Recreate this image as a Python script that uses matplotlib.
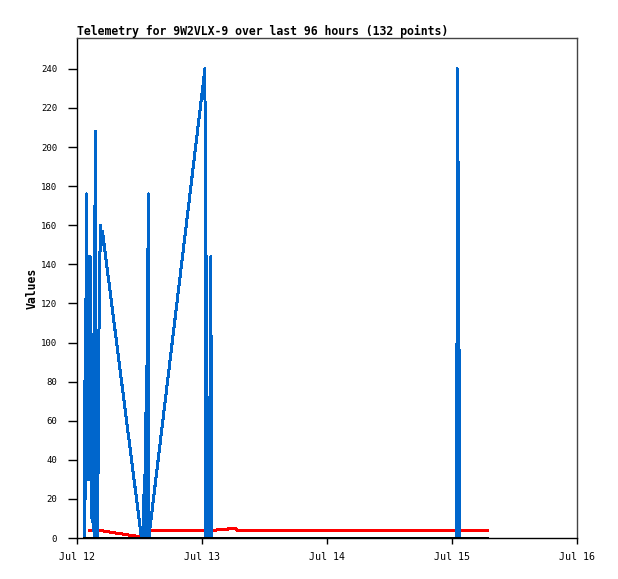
import matplotlib
matplotlib.use("Agg")
import numpy as np
import pandas as pd
import matplotlib.pyplot as plt
import matplotlib.dates as mdates

# keep every spike as drawn
plt.rcParams["path.simplify"] = False

# time axis: hours after Jul 12 00:00
start = pd.Timestamp("2024-07-12 00:00")

blue_hours = [1.29, 1.36, 1.44, 1.52, 1.59, 1.71, 1.82, 1.98, 2.09, 2.21,
              2.32, 2.44, 2.55, 2.63, 2.71, 2.78, 2.90, 2.98, 3.09, 3.21,
              3.44, 3.59, 3.88, 4.01, 4.20, 4.44, 4.63, 4.82,
              12.33, 12.61, 12.90, 13.00, 13.11, 13.19, 13.31, 13.42, 13.61, 13.73,
              24.52, 24.67, 24.82, 24.95, 25.05, 25.15, 25.54, 25.65, 25.77,
              72.90, 73.00, 73.09, 73.19, 73.29, 73.38, 73.48, 78.85]
blue_values = [0, 80, 30, 96, 20, 176, 40, 144, 30, 144,
               30, 144, 126, 60, 90, 10, 54, 8, 104, 0,
               208, 0, 0, 45, 120, 160, 150, 157,
               0, 0, 32, 0, 64, 0, 88, 0, 176, 0,
               240, 0, 144, 0, 72, 0, 0, 144, 0,
               0, 240, 0, 192, 0, 96, 0, 0]

red_hours = [2.30, 4.44, 12.13, 12.42, 26.63, 26.82, 28.93, 29.12, 30.47, 30.66, 78.85]
red_values = [3.8, 3.8, 0.6, 3.8, 3.8, 4.3, 4.3, 4.9, 4.9, 3.8, 3.8]

black_hours = [1.29, 78.85]
black_values = [0, 0]

title = "Telemetry for 9W2VLX-9 over last 96 hours (132 points)"


def to_time(hours):
    return start + pd.to_timedelta(np.array(hours), unit="h")


fig = plt.figure(figsize=(6.18, 5.79), dpi=100)
ax = fig.add_axes([0.1251, 0.0708, 0.8086, 0.8636])

lw = 2 * 72 / 100
ax.plot(to_time(red_hours), red_values, color="#ff0000", lw=lw, zorder=2,
        antialiased=False)
ax.plot(to_time(blue_hours), blue_values, color="#0066cc", lw=lw, zorder=3,
        antialiased=False)
ax.plot(to_time(black_hours), black_values, color="#000000", lw=lw, zorder=4,
        antialiased=False)

ax.set_xlim(start, start + pd.Timedelta(days=4))
ax.set_ylim(0, 255.8)
ax.set_yticks(np.arange(0, 241, 20))
ax.xaxis.set_major_locator(mdates.DayLocator())
ax.xaxis.set_major_formatter(mdates.DateFormatter("%b %d"))

mono = "DejaVu Sans Mono"
for lab in ax.get_xticklabels():
    lab.set_fontfamily(mono)
    lab.set_fontsize(7.2)
for lab in ax.get_yticklabels():
    lab.set_fontfamily(mono)
    lab.set_fontsize(6.5)

ax.tick_params(axis="x", direction="out", length=4.5, width=1, pad=5.5, colors="black")
ax.tick_params(axis="y", direction="out", length=6.5, width=1, pad=8, colors="black")

ax.spines["left"].set_color("black")
ax.spines["bottom"].set_color("black")
ax.spines["top"].set_color("#444444")
ax.spines["right"].set_color("#444444")
for s in ax.spines.values():
    s.set_linewidth(1)

ax.set_ylabel("Values", fontfamily=mono, fontweight="bold", fontsize=8.3, labelpad=2)
ax.set_title(title, loc="left", fontfamily=mono, fontweight="bold", fontsize=8.3, pad=2)

fig.savefig("out.png", dpi=100)
